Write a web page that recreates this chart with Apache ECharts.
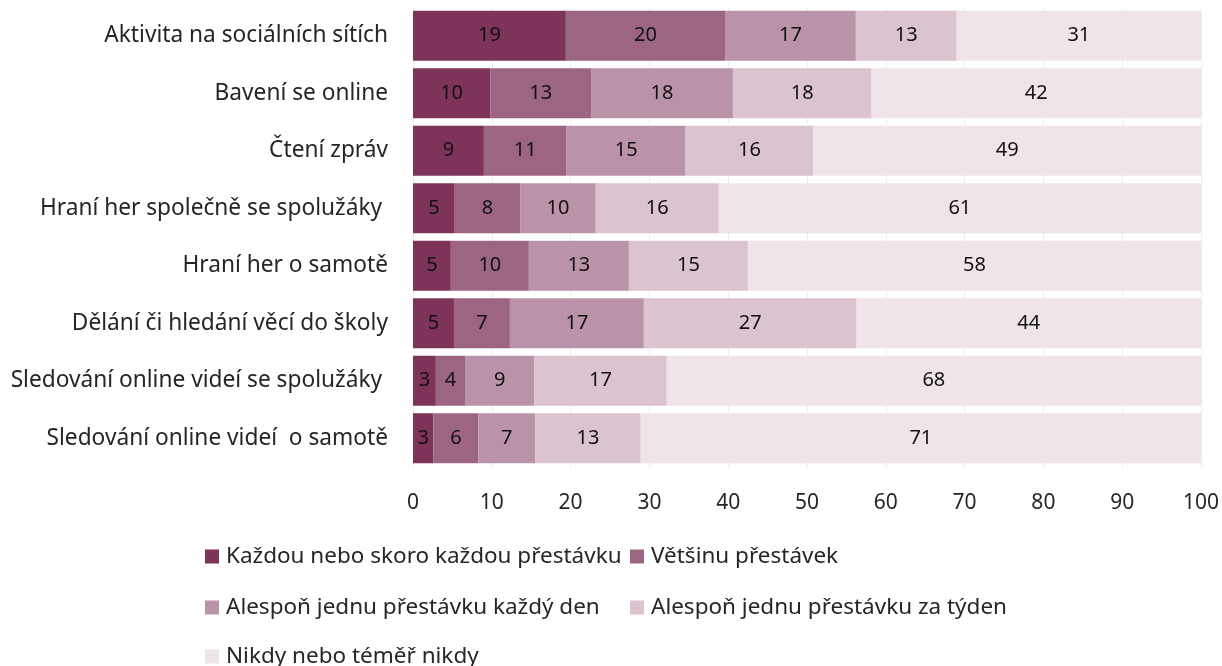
<!DOCTYPE html>
<html>
<head>
<meta charset="utf-8">
<script src="https://cdn.jsdelivr.net/npm/echarts@6/dist/echarts.min.js"></script>
<style>html,body{margin:0;padding:0;background:#fff}#c{width:1222px;height:666px}</style>
</head>
<body>
<div id="c"></div>
<script>
const categories = [
  "Aktivita na sociálních sítích",
  "Bavení se online",
  "Čtení zpráv",
  "Hraní her společně se spolužáky ",
  "Hraní her o samotě",
  "Dělání či hledání věcí do školy",
  "Sledování online videí se spolužáky ",
  "Sledování online videí  o samotě"
];
const seriesNames = [
  "Každou nebo skoro každou přestávku",
  "Většinu přestávek",
  "Alespoň jednu přestávku každý den",
  "Alespoň jednu přestávku za týden",
  "Nikdy nebo téměř nikdy"
];
const kazdou    = [19.4, 9.8, 9.0, 5.3, 4.8, 5.2, 2.9, 2.6];
const vetsinu   = [20.2, 12.8, 10.5, 8.3, 9.9, 7.1, 3.7, 5.7];
const denne     = [16.6, 18.0, 15.1, 9.6, 12.7, 17.0, 8.8, 7.2];
const tydne     = [12.8, 17.6, 16.2, 15.6, 15.1, 27.0, 16.8, 13.4];
const nikdy     = [31.0, 41.8, 49.2, 61.3, 57.6, 43.7, 67.8, 71.2];
const xTicks = [0, 10, 20, 30, 40, 50, 60, 70, 80, 90, 100];
const colors = ["#7e3459", "#9c6682", "#bb93a9", "#dbc3cf", "#efe4ea"];
const values = [kazdou, vetsinu, denne, tydne, nikdy];

const FONT = "Noto Sans";
const chart = echarts.init(document.getElementById('c'), null, {renderer: 'canvas'});

const legendPos = [
  {left: 205, top: 545},
  {left: 630, top: 545},
  {left: 205, top: 596},
  {left: 630, top: 596},
  {left: 205, top: 645}
];
const legends = seriesNames.map((n, i) => ({
  data: [n],
  left: legendPos[i].left,
  top: legendPos[i].top,
  orient: 'horizontal',
  icon: 'rect',
  itemWidth: 14,
  itemHeight: 14,
  itemGap: 4,
  padding: 0,
  selectedMode: false,
  textStyle: {fontFamily: FONT, fontSize: 22.5, color: '#262626', padding: [0, 0, 0, 2]}
}));

chart.setOption({
  animation: false,
  color: colors,
  textStyle: {fontFamily: FONT},
  legend: legends,
  grid: {left: 413, right: 21, top: 7, bottom: 199, containLabel: false},
  xAxis: {
    type: 'value',
    min: 0, max: 100, interval: 10,
    axisLine: {show: false},
    axisTick: {show: false},
    splitLine: {show: true, lineStyle: {color: '#eeeeee', width: 1}},
    axisLabel: {fontFamily: FONT, fontSize: 21, color: '#262626', margin: 26,
      formatter: v => xTicks.includes(v) ? String(v) : ''}
  },
  yAxis: {
    type: 'category',
    data: categories,
    inverse: true,
    axisLine: {show: false},
    axisTick: {show: false},
    axisLabel: {fontFamily: FONT, fontSize: 22.7, color: '#262626', margin: 25}
  },
  series: seriesNames.map((n, i) => ({
    name: n,
    type: 'bar',
    stack: 'total',
    barCategoryGap: '13%',
    data: values[i],
    itemStyle: {color: colors[i]},
    label: {
      show: true,
      position: 'inside',
      fontFamily: FONT,
      fontSize: 20,
      color: '#111',
      formatter: p => String(Math.round(p.value))
    }
  }))
});
</script>
</body>
</html>
